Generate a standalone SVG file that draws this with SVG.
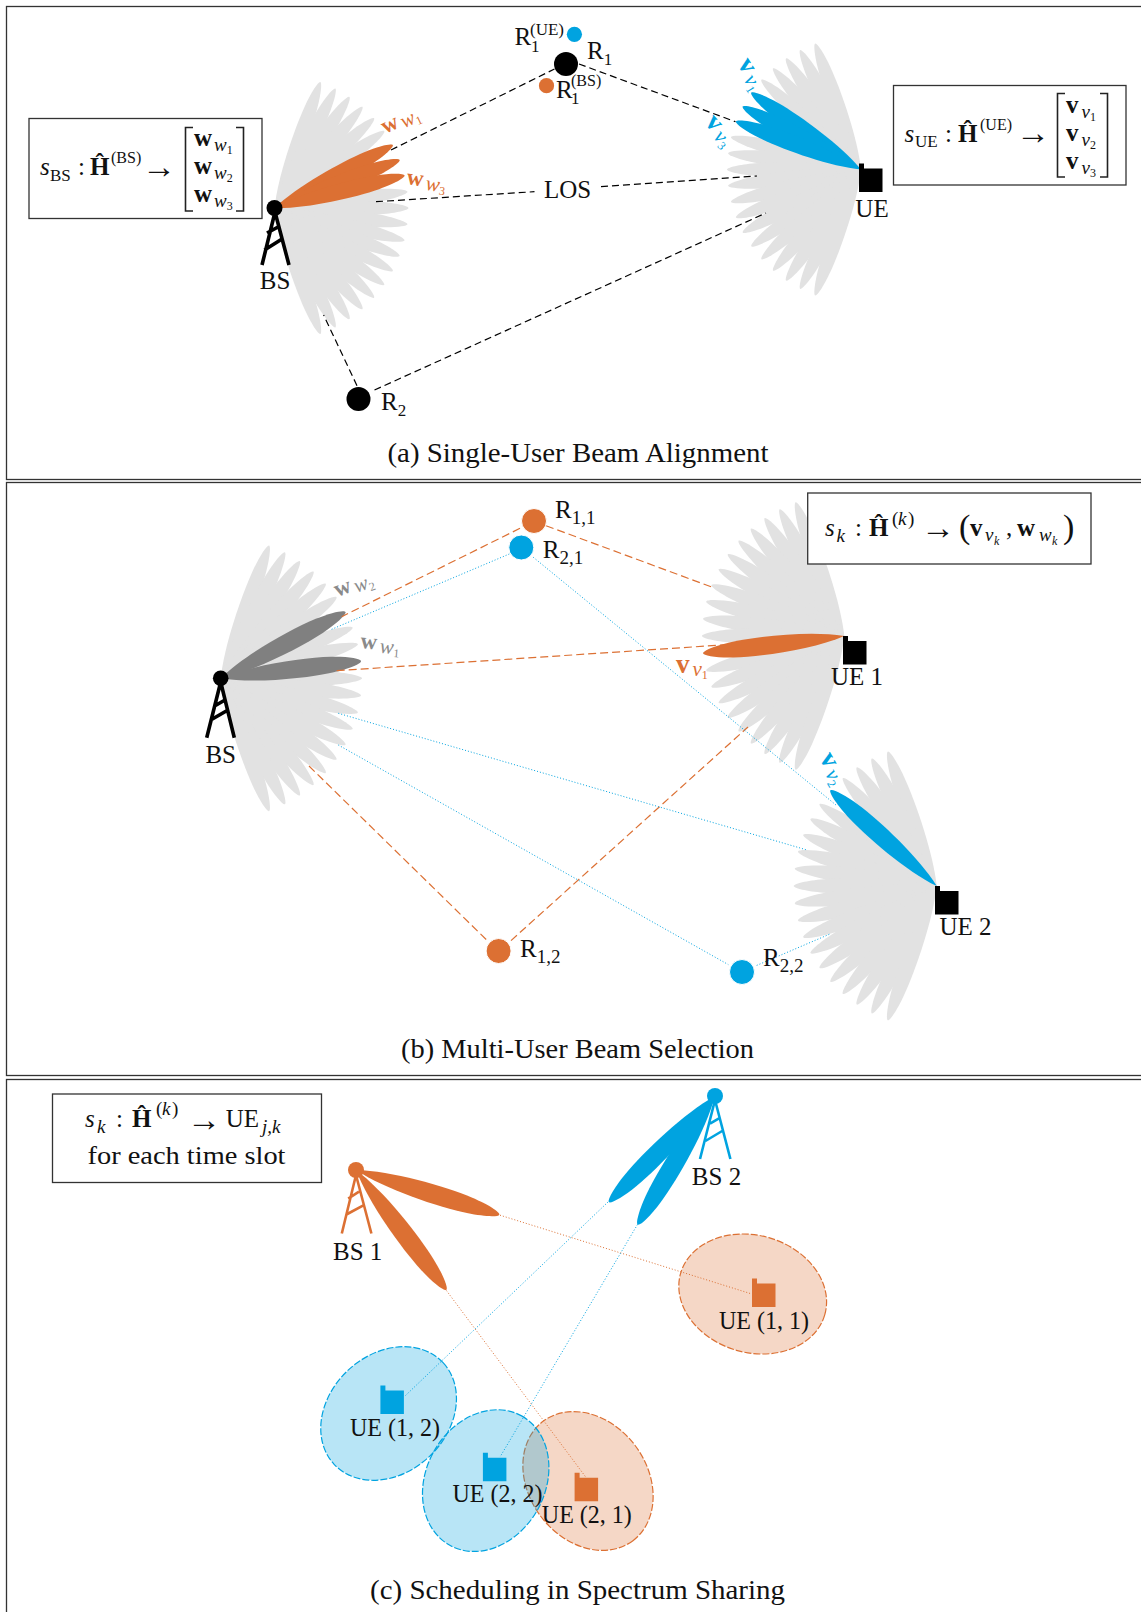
<svg xmlns="http://www.w3.org/2000/svg" xmlns:xlink="http://www.w3.org/1999/xlink" width="1141" height="1612" viewBox="0 0 1141 1612">
<style>
text{font-family:"Liberation Serif",serif;font-size:25px;fill:#111}
.i{font-style:italic}
.b{font-weight:bold}
.s{font-size:17px}
.u{font-size:19px}
.v{font-size:21px}
.t{font-size:12px}
.ar{font-size:34px}
.bw{font-size:23px;font-weight:bold}
.bv{font-size:27px;font-weight:bold}
.cap{font-size:27px}
.frame{fill:none;stroke:#333;stroke-width:1.3}
.box{fill:#fff;stroke:#333;stroke-width:1.3}
.br{fill:none;stroke:#222;stroke-width:1.6}
.k{fill:none;stroke:#000;stroke-width:1.2;stroke-dasharray:7 4}
.od{fill:none;stroke:#DC7033;stroke-width:1.2;stroke-dasharray:8 4}
.bd{fill:none;stroke:#00A3E0;stroke-width:1;stroke-dasharray:1 2}
.oo{fill:none;stroke:#DC7033;stroke-width:1;stroke-dasharray:1 2}
.or{fill:#DC7033}
.bl{fill:#00A3E0}
.gy{fill:#808080}
.lg{fill:#E2E2E2}
.tw{fill:none;stroke-width:3.6}
.eo{fill:#DC7033;fill-opacity:.28;stroke:#DC7033;stroke-width:1.2;stroke-dasharray:7 2}
.eb{fill:#00A3E0;fill-opacity:.28;stroke:#00A3E0;stroke-width:1.2;stroke-dasharray:7 2}
text.lo,text.lo tspan{fill:#DC7033}
text.lb,text.lb tspan{fill:#00A3E0}
text.lg2,text.lg2 tspan{fill:#8a8a8a}
</style>
<defs>
<path id="lobe" d="M0 0C30 -7.5 80 -8.4 106 -6.3C122 -5 134 -2 134 0C134 2 122 5 106 6.3C80 8.4 30 7.5 0 0Z"/>
<g id="fan">
<use href="#lobe" transform="rotate(-70)"/><use href="#lobe" transform="rotate(-63)"/><use href="#lobe" transform="rotate(-56)"/><use href="#lobe" transform="rotate(-49)"/><use href="#lobe" transform="rotate(-42)"/><use href="#lobe" transform="rotate(-35)"/><use href="#lobe" transform="rotate(-28)"/>
<use href="#lobe" transform="rotate(-21)"/><use href="#lobe" transform="rotate(-14)"/><use href="#lobe" transform="rotate(-7)"/><use href="#lobe"/><use href="#lobe" transform="rotate(7)"/><use href="#lobe" transform="rotate(14)"/><use href="#lobe" transform="rotate(21)"/>
<use href="#lobe" transform="rotate(28)"/><use href="#lobe" transform="rotate(35)"/><use href="#lobe" transform="rotate(42)"/><use href="#lobe" transform="rotate(49)"/><use href="#lobe" transform="rotate(56)"/><use href="#lobe" transform="rotate(63)"/><use href="#lobe" transform="rotate(70)"/>
</g>
<path id="ue" d="M0 -10H5V-5H23.5V18.5H0Z"/>
</defs>

<g id="frames">
<rect class="frame" x="6.5" y="6.5" width="1140" height="473"/>
<rect class="frame" x="6.5" y="482.5" width="1140" height="593"/>
<rect class="frame" x="6.5" y="1079.5" width="1140" height="540"/>
</g>

<g id="panel-a-fans">
<use class="lg" href="#fan" transform="translate(274.5 208)"/>
<use class="lg" href="#fan" transform="translate(861 169.5) scale(-1 1)"/>
<use class="or" href="#lobe" transform="translate(274.5 208) rotate(-28) scale(1 1.12)"/>
<use class="or" href="#lobe" transform="translate(274.5 208) rotate(-21) scale(1 1.12)"/>
<use class="or" href="#lobe" transform="translate(274.5 208) rotate(-14) scale(1 1.12)"/>
<use class="bl" href="#lobe" transform="translate(861 169.5) scale(-1 1) rotate(-35) scale(1 1.12)"/>
<use class="bl" href="#lobe" transform="translate(861 169.5) scale(-1 1) rotate(-28) scale(1 1.12)"/>
<use class="bl" href="#lobe" transform="translate(861 169.5) scale(-1 1) rotate(-21) scale(1 1.12)"/>
</g>
<g id="panel-b-fans">
<use class="lg" href="#fan" transform="translate(220.7 678.3) scale(1.055)"/>
<use class="lg" href="#fan" transform="translate(844.3 636) scale(-1.062 1.062)"/>
<use class="lg" href="#fan" transform="translate(936.7 886) scale(-1.067 1.067)"/>
<use class="gy" href="#lobe" transform="translate(220.7 678.3) rotate(-28) scale(1.055 1.25)"/>
<use class="gy" href="#lobe" transform="translate(220.7 678.3) rotate(-7) scale(1.055 1.25)"/>
<use class="or" href="#lobe" transform="translate(844.3 636) scale(-1 1) rotate(7) scale(1.062 1.25)"/>
<use class="bl" href="#lobe" transform="translate(936.7 886) scale(-1 1) rotate(-42) scale(1.067 1.25)"/>
</g>

<g id="connectors">
<path class="k" d="M391 150L554.5 69"/>
<path class="k" d="M579 64L735.5 121.7"/>
<path class="k" d="M376 201.7L534.5 191.7"/>
<path class="k" d="M601 186.7L757 176"/>
<path class="k" d="M357 385.7L323.6 315"/>
<path class="k" d="M374.5 390L766 213"/>
<path class="od" d="M520 528.3L341.7 616.7"/>
<path class="od" d="M546 525.7L711.7 587"/>
<path class="od" d="M336.7 670.7L728 644.6"/>
<path class="od" d="M309 766L487.3 940.6"/>
<path class="od" d="M511 940.6L748 727"/>
<path class="bd" d="M509.3 554L330 630"/>
<path class="bd" d="M533.3 557.3L836.7 805.6"/>
<path class="bd" d="M338.3 713.3L807 850"/>
<path class="bd" d="M338.3 745L728.3 964.6"/>
<path class="bd" d="M756.7 965.4L830 934"/>
<path class="oo" d="M500 1215.2L751.8 1294"/>
<path class="oo" d="M446.4 1290.5L585.7 1477"/>
<path class="bd" d="M608 1202L405.4 1395.6"/>
<path class="bd" d="M637.5 1224.5L500 1457"/>
</g>

<g id="bs-a">
<path class="tw" stroke="#000" d="M262 265L275 212L289 265M267 233L278 227M264.5 250L282 239"/>
<circle cx="274.5" cy="208" r="8" fill="#000"/>
<text x="275" y="289" text-anchor="middle">BS</text>
</g>
<g id="ue-a">
<use href="#ue" transform="translate(859 173.5)"/>
<text x="872" y="217" text-anchor="middle">UE</text>
</g>
<g id="r1-a">
<circle cx="566" cy="64" r="12"/>
<circle class="bl" cx="574.4" cy="34.3" r="7.6"/>
<circle class="or" cx="546.5" cy="85.7" r="7.6"/>
<text x="587" y="59">R<tspan class="s" dy="6">1</tspan></text>
<text x="514.5" y="45">R<tspan class="s" x="530" y="35">(UE)</tspan><tspan class="s" x="531" y="52">1</tspan></text>
<text x="556" y="98">R<tspan style="font-size:16px" x="571" y="86">(BS)</tspan><tspan class="s" x="571" y="104">1</tspan></text>
</g>
<g id="r2-a">
<circle cx="358.5" cy="399" r="12"/>
<text x="381" y="410">R<tspan class="s" dy="6">2</tspan></text>
</g>
<g id="los-a"><text x="544" y="198">LOS</text></g>
<g id="box-bs">
<rect class="box" x="29" y="118.5" width="233" height="100"/>
<text><tspan class="i" x="40" y="175">s</tspan><tspan class="s" x="50" y="181">BS</tspan><tspan x="78" y="175">:</tspan><tspan class="b" x="90" y="175">Ĥ</tspan><tspan style="font-size:16px" x="111" y="163">(BS)</tspan><tspan class="ar" x="142" y="178">→</tspan></text>
<path class="br" d="M193 127.5H185.5V211H193M236 127.5H243.5V211H236"/>
<text x="194" y="146"><tspan class="b">w</tspan><tspan class="i u" dx="2" dy="5">w</tspan><tspan class="t" dy="3">1</tspan></text>
<text x="194" y="174"><tspan class="b">w</tspan><tspan class="i u" dx="2" dy="5">w</tspan><tspan class="t" dy="3">2</tspan></text>
<text x="194" y="202"><tspan class="b">w</tspan><tspan class="i u" dx="2" dy="5">w</tspan><tspan class="t" dy="3">3</tspan></text>
</g>
<g id="box-ue">
<rect class="box" x="893.5" y="85.5" width="232.5" height="99.5"/>
<text><tspan class="i" x="904.5" y="141.5">s</tspan><tspan class="s" x="915" y="147">UE</tspan><tspan x="945" y="141.5">:</tspan><tspan class="b" x="958" y="141.5">Ĥ</tspan><tspan style="font-size:16px" x="980" y="130">(UE)</tspan><tspan class="ar" x="1016" y="144">→</tspan></text>
<path class="br" d="M1065 93.5H1057.5V177H1065M1100 93.5H1107.5V177H1100"/>
<text x="1066" y="113"><tspan class="b">v</tspan><tspan class="i u" dx="3" dy="5">v</tspan><tspan class="t" dy="3">1</tspan></text>
<text x="1066" y="141"><tspan class="b">v</tspan><tspan class="i u" dx="3" dy="5">v</tspan><tspan class="t" dy="3">2</tspan></text>
<text x="1066" y="169"><tspan class="b">v</tspan><tspan class="i u" dx="3" dy="5">v</tspan><tspan class="t" dy="3">3</tspan></text>
</g>
<g id="labels-a">
<text class="lo" transform="translate(385 134) rotate(-25)"><tspan class="bw">w</tspan><tspan class="i v" dx="3" dy="3">w</tspan><tspan class="t" dy="3">1</tspan></text>
<text class="lo" transform="translate(406 184) rotate(8)"><tspan class="bw">w</tspan><tspan class="i v" dx="3" dy="3">w</tspan><tspan class="t" dy="3">3</tspan></text>
<text class="lb" transform="translate(737 64) rotate(58)"><tspan class="bv">v</tspan><tspan class="i v" dx="3" dy="3">v</tspan><tspan class="t" dy="3">1</tspan></text>
<text class="lb" transform="translate(704 123) rotate(48)"><tspan class="bv">v</tspan><tspan class="i v" dx="3" dy="3">v</tspan><tspan class="t" dy="3">3</tspan></text>
</g>
<g id="caption-a"><text class="cap" x="387.5" y="462" textLength="381" lengthAdjust="spacingAndGlyphs">(a) Single-User Beam Alignment</text></g>

<g id="bs-b">
<path class="tw" stroke="#000" d="M206.7 737.7L220.7 682L234.3 737.7M215 705.7L225 700M210.7 720L228 710"/>
<circle cx="220.7" cy="678.3" r="7.8" fill="#000"/>
<text x="220.7" y="763" text-anchor="middle">BS</text>
</g>
<g id="ue1-b">
<use href="#ue" transform="translate(843 646)"/>
<text x="831" y="685">UE 1</text>
</g>
<g id="ue2-b">
<use href="#ue" transform="translate(935 896)" />
<text x="939.5" y="935">UE 2</text>
</g>
<g id="r11-b">
<circle class="or" cx="534" cy="521" r="12.5" stroke="#fff"/>
<text x="555" y="518">R<tspan class="u" dy="6">1,1</tspan></text>
</g>
<g id="r21-b">
<circle class="bl" cx="521.3" cy="547.5" r="12.5" stroke="#fff"/>
<text x="542.7" y="558">R<tspan class="u" dy="6">2,1</tspan></text>
</g>
<g id="r12-b">
<circle class="or" cx="498.6" cy="951" r="12.5" stroke="#fff"/>
<text x="520" y="957">R<tspan class="u" dy="6">1,2</tspan></text>
</g>
<g id="r22-b">
<circle class="bl" cx="742" cy="972" r="12.5" stroke="#fff"/>
<text x="763" y="966">R<tspan class="u" dy="6">2,2</tspan></text>
</g>
<g id="box-b">
<rect class="box" x="807.7" y="493" width="283.3" height="71"/>
<text><tspan class="i" x="825" y="536">s</tspan><tspan class="i u" x="836.5" y="542">k</tspan><tspan x="855" y="536">:</tspan><tspan class="b" x="869" y="536">Ĥ</tspan><tspan class="u" x="892" y="525">(</tspan><tspan class="i u" x="898" y="525">k</tspan><tspan class="u" x="908" y="525">)</tspan><tspan class="ar" x="921" y="539">→</tspan><tspan style="font-size:34px" x="959" y="538">(</tspan><tspan class="b" x="970" y="536">v</tspan><tspan class="i u" x="985" y="541">v</tspan><tspan class="i t" x="994" y="545">k</tspan><tspan x="1006" y="536">,</tspan><tspan class="b" x="1017" y="536">w</tspan><tspan class="i u" x="1039" y="541">w</tspan><tspan class="i t" x="1052" y="545">k</tspan><tspan style="font-size:34px" x="1063" y="538">)</tspan></text>
</g>
<g id="labels-b">
<text class="lg2" transform="translate(337 597) rotate(-20)"><tspan class="bw">w</tspan><tspan class="i v" dx="3" dy="3">w</tspan><tspan class="t" dy="3">2</tspan></text>
<text class="lg2" transform="translate(360 648) rotate(5)"><tspan class="bw">w</tspan><tspan class="i v" dx="3" dy="3">w</tspan><tspan class="t" dy="3">1</tspan></text>
<text class="lo" x="676" y="673"><tspan class="bv">v</tspan><tspan class="i v" dx="3" dy="3">v</tspan><tspan class="t" dy="3">1</tspan></text>
<text class="lb" transform="translate(819 758) rotate(60)"><tspan class="bv">v</tspan><tspan class="i v" dx="3" dy="3">v</tspan><tspan class="t" dy="3">2</tspan></text>
</g>
<g id="caption-b"><text class="cap" x="401" y="1058" textLength="353" lengthAdjust="spacingAndGlyphs">(b) Multi-User Beam Selection</text></g>

<g id="box-c">
<rect class="box" x="52.5" y="1094" width="269" height="88.5"/>
<text><tspan class="i" x="85" y="1127">s</tspan><tspan class="i u" x="97" y="1133">k</tspan><tspan x="116" y="1127">:</tspan><tspan class="b" x="132" y="1127">Ĥ</tspan><tspan class="u" x="156" y="1115">(</tspan><tspan class="i u" x="162" y="1115">k</tspan><tspan class="u" x="172" y="1115">)</tspan><tspan class="ar" x="187" y="1131">→</tspan><tspan x="225.7" y="1127">UE</tspan><tspan class="i u" x="262" y="1133">j,k</tspan></text>
<text x="87.5" y="1164" textLength="198" lengthAdjust="spacingAndGlyphs">for each time slot</text>
</g>
<g id="bs1-c">
<use class="or" href="#lobe" transform="translate(356 1170) rotate(17.3) scale(1.12 1.3)"/>
<use class="or" href="#lobe" transform="translate(356 1170) rotate(53) scale(1.12 1.3)"/>
<path class="tw" style="stroke-width:2.6" stroke="#DC7033" d="M341.8 1233.5L356 1175L371.4 1233.5M348.2 1198.6L359 1191.7M346.4 1214.5L364.3 1204.8"/>
<circle class="or" cx="356" cy="1170" r="8"/>
<text x="333" y="1260">BS 1</text>
</g>
<g id="bs2-c">
<use class="bl" href="#lobe" transform="translate(715 1096) rotate(135) scale(1.12 1.3)"/>
<use class="bl" href="#lobe" transform="translate(715 1096) rotate(121) scale(1.12 1.3)"/>
<path class="tw" style="stroke-width:2.6" stroke="#00A3E0" d="M700 1159L715 1100L730.4 1159M710 1123.6L719 1118.4M705.4 1141L723 1130.5"/>
<circle class="bl" cx="715" cy="1096" r="8"/>
<text x="691.8" y="1185">BS 2</text>
</g>
<g id="ue11-c">
<ellipse class="eo" cx="752.7" cy="1294" rx="75" ry="58.6" transform="rotate(16 752.7 1294)"/>
<use class="or" href="#ue" transform="translate(752 1288.5)"/>
<text x="719" y="1328.5" textLength="90" lengthAdjust="spacingAndGlyphs">UE (1, 1)</text>
</g>
<g id="ue21-c">
<ellipse class="eo" cx="588" cy="1481" rx="74.7" ry="59" transform="rotate(53 588 1481)"/>
<use class="or" href="#ue" transform="translate(574.6 1482.8)"/>
<text x="541.8" y="1522.8" textLength="90" lengthAdjust="spacingAndGlyphs">UE (2, 1)</text>
</g>
<g id="ue12-c">
<ellipse class="eb" cx="388.6" cy="1413.5" rx="74.5" ry="59.3" transform="rotate(-43 388.6 1413.5)"/>
<use class="bl" href="#ue" transform="translate(380.4 1395.5)"/>
<text x="350" y="1435.5" textLength="90" lengthAdjust="spacingAndGlyphs">UE (1, 2)</text>
</g>
<g id="ue22-c">
<ellipse class="eb" cx="485.7" cy="1480.6" rx="74" ry="59.5" transform="rotate(-61 485.7 1480.6)"/>
<use class="bl" href="#ue" transform="translate(482.9 1462.8)"/>
<text x="452.5" y="1502" textLength="90" lengthAdjust="spacingAndGlyphs">UE (2, 2)</text>
</g>
<g id="caption-c"><text class="cap" x="370" y="1599" textLength="415" lengthAdjust="spacingAndGlyphs">(c) Scheduling in Spectrum Sharing</text></g>
</svg>
